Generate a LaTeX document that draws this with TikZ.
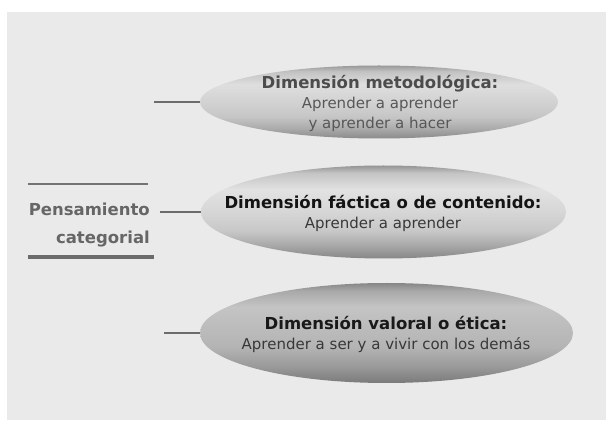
\documentclass[tikz,border=0pt]{standalone}
\usepackage{fontspec}
\setmainfont{DejaVu Sans}
\usetikzlibrary{shapes.geometric}
\definecolor{panelgray}{HTML}{EAEAEA}
\definecolor{linegray}{HTML}{6C6C6C}
\definecolor{labelgray}{HTML}{666666}
% ellipse 1 colours (bottom -> top)
\definecolor{aA}{HTML}{8A8A8A}
\definecolor{aB}{HTML}{ABABAB}
\definecolor{aC}{HTML}{C6C6C6}
\definecolor{aD}{HTML}{D2D2D2}
\definecolor{aE}{HTML}{DEDEDE}
\definecolor{aF}{HTML}{C2C2C2}
\definecolor{aG}{HTML}{989898}
% ellipse 2 colours
\definecolor{bA}{HTML}{868686}
\definecolor{bB}{HTML}{A8A8A8}
\definecolor{bC}{HTML}{C8C8C8}
\definecolor{bD}{HTML}{D6D6D6}
\definecolor{bE}{HTML}{E2E2E2}
\definecolor{bF}{HTML}{C4C4C4}
\definecolor{bG}{HTML}{949494}
% ellipse 3 colours
\definecolor{cA}{HTML}{7A7A7A}
\definecolor{cB}{HTML}{999999}
\definecolor{cC}{HTML}{B4B4B4}
\definecolor{cD}{HTML}{BCBCBC}
\definecolor{cE}{HTML}{C4C4C4}
\definecolor{cF}{HTML}{A9A9A9}
\definecolor{cG}{HTML}{868686}
\pgfdeclareverticalshading{ellA}{100bp}{color(0bp)=(aA); color(25bp)=(aA); color(32bp)=(aB); color(40bp)=(aC); color(50bp)=(aD); color(62bp)=(aE); color(71bp)=(aF); color(75bp)=(aG); color(100bp)=(aG)}
\pgfdeclareverticalshading{ellB}{100bp}{color(0bp)=(bA); color(25bp)=(bA); color(32bp)=(bB); color(40bp)=(bC); color(50bp)=(bD); color(62bp)=(bE); color(71bp)=(bF); color(75bp)=(bG); color(100bp)=(bG)}
\pgfdeclareverticalshading{ellC}{100bp}{color(0bp)=(cA); color(25bp)=(cA); color(33bp)=(cB); color(43bp)=(cC); color(53bp)=(cD); color(63bp)=(cE); color(71bp)=(cF); color(75bp)=(cG); color(100bp)=(cG)}
\tikzset{
  ell/.style={ellipse, inner sep=0pt, outer sep=0pt},
  conn/.style={draw=linegray, line width=1.8pt},
  eltext/.style={align=center, inner sep=0pt, font=\fontsize{15}{20}\selectfont},
  leftlabel/.style={anchor=east, inner sep=0pt, text=labelgray, font=\fontsize{16.5}{20}\selectfont\bfseries}
}
\begin{document}
\begin{tikzpicture}[x=1pt,y=-1pt]
\useasboundingbox (0,0) rectangle (606,422);
\fill[white] (0,0) rectangle (606,422);
\fill[panelgray] (7,12) rectangle (606,420);

% ellipses
\node[ell, minimum width=358pt, minimum height=73pt, shading=ellA] (e1) at (379,102) {};
\node[ell, minimum width=365pt, minimum height=93pt, shading=ellB] (e2) at (383.5,212) {};
\node[ell, minimum width=373pt, minimum height=100pt, shading=ellC] (e3) at (386.5,333) {};

% texts
\node[eltext, text=black!66] (t1) at (380,103)
  {{\fontsize{16.5}{20}\selectfont\bfseries\color{black!70}Dimensión metodológica:}\\Aprender a aprender\\y aprender a hacer};
\node[eltext, text=black!78] (t2) at (383,213)
  {{\fontsize{16.5}{20}\selectfont\bfseries\color{black!92}Dimensión fáctica o de contenido:}\\Aprender a aprender};
\node[eltext, text=black!78] (t3) at (386,334.5)
  {{\fontsize{16.5}{20}\selectfont\bfseries\color{black!90}Dimensión valoral o ética:}\\Aprender a ser y a vivir con los demás};

% connectors
\coordinate (c1) at (154,102);
\coordinate (c2) at (160,212);
\coordinate (c3) at (164,333);
\draw[conn] (c1) -- (e1.west);
\draw[conn] (c2) -- (e2.west);
\draw[conn] (c3) -- (e3.west);

% left label
\node[leftlabel] (p1) at (150,209) {Pensamiento};
\node[leftlabel] (p2) at (150,239) {categorial};
\coordinate (l1a) at (28,184);
\coordinate (l1b) at (148,184);
\coordinate (l2a) at (28,257);
\coordinate (l2b) at (154,257);
\draw[draw=black!55, line width=1.6pt] (l1a) -- (l1b);
\draw[draw=black!58, line width=3.6pt] (l2a) -- (l2b);
\end{tikzpicture}
\end{document}
